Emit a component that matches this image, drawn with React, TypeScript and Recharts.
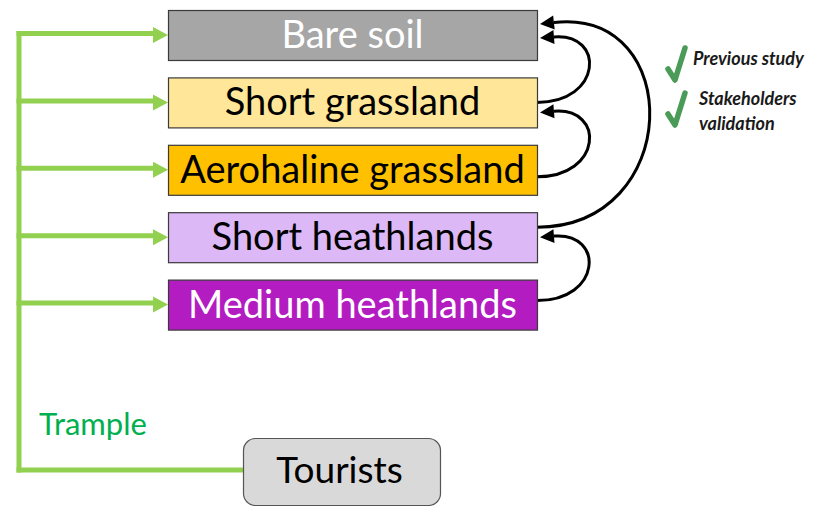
import { ComposedChart, Scatter, XAxis, YAxis } from 'recharts';

// vegetation states, top to bottom
const states = ['Bare soil', 'Short grassland', 'Aerohaline grassland', 'Short heathlands', 'Medium heathlands'];
// degradation transitions (from -> to)
const transitionFrom = ['Short grassland', 'Aerohaline grassland', 'Short heathlands', 'Medium heathlands'];
const transitionTo = ['Bare soil', 'Short grassland', 'Bare soil', 'Short heathlands'];
// driver and pressure
const driver = 'Tourists';
const pressure = 'Trample';
// sources of the model
const sources = ['Previous study', 'Stakeholders validation'];

// styles
const stateFill = ['#A6A6A6', '#FFE699', '#FFC000', '#DDB8F6', '#B21CC0'];
const stateInk = ['#FFFFFF', '#000000', '#000000', '#000000', '#FFFFFF'];
const GREEN = '#92D050';
const FONT = 'Lato, "Open Sans", sans-serif';

// layout (x axis is in pixels, y axis in rows)
const W = 814;
const H = 506;
const ROW0 = 35;
const ROW_STEP = 67.4;
const BOX_LEFT = 168;
const BOX_RIGHT = 537;
const BOX_H = 50;
const TRUNK_X = 19;
const TOURIST_ROW = 6.476;
const TOURIST_LEFT = 243;
const TOURIST_RIGHT = 440;
const LEGEND_X = 676;
const LEGEND_ROWS = [0.43, 1.098];
const arcStartDy = [0, 7, -10, -4];
const arcEndDy = [3, 10, -11, 0];

const yDomain = [-ROW0 / ROW_STEP, (H - ROW0) / ROW_STEP];

const boxData = states.map((s, i) => ({ x: (BOX_LEFT + BOX_RIGHT) / 2, row: i, label: s, fill: stateFill[i], ink: stateInk[i] }));
const touristData = [{ x: (TOURIST_LEFT + TOURIST_RIGHT) / 2, row: TOURIST_ROW, label: driver }];
const legendData = sources.map((s, i) => ({ x: LEGEND_X, row: LEGEND_ROWS[i], label: s }));

const noDot = () => <g />;

const StateBox = (props: any) => {
  const { cx, cy, payload } = props;
  const w = BOX_RIGHT - BOX_LEFT;
  return (
    <g>
      <rect x={cx - w / 2 + 0.5} y={cy - BOX_H / 2 + 0.5} width={w} height={BOX_H} fill={payload.fill} stroke="#3A3A3A" strokeWidth={1.2} />
      <text x={cx} y={cy + 13} textAnchor="middle" fontFamily={FONT} fontSize={38} fill={payload.ink}>
        {payload.label}
      </text>
    </g>
  );
};

const TouristBox = (props: any) => {
  const { cx, cy, payload } = props;
  const w = TOURIST_RIGHT - TOURIST_LEFT;
  return (
    <g>
      <rect x={cx - w / 2 + 0.5} y={cy - 33} width={w} height={67} rx={12} fill="#D9D9D9" stroke="#555555" strokeWidth={1.2} />
      <text x={cx - 2} y={cy + 12} textAnchor="middle" fontFamily={FONT} fontSize={37} fill="#000">
        {payload.label}
      </text>
    </g>
  );
};

const LegendItem = (props: any) => {
  const { cx, cy, payload } = props;
  const label = String(payload.label);
  const lines = label.length > 16 ? label.split(' ') : [label];
  return (
    <g>
      <path d={`M${cx - 8},${cy + 5} L${cx - 1},${cy + 16} L${cx + 9},${cy - 16}`} fill="none" stroke="#4A9B58" strokeWidth={5.5} strokeLinecap="round" strokeLinejoin="round" />
      {lines.length === 1 ? (
        <text x={cx + 17} y={cy + 1} fontFamily={FONT} fontSize={18} fontWeight="bold" fontStyle="italic" fill="#1A1A1A">
          {lines[0]}
        </text>
      ) : (
        lines.map((l, k) => (
          <text key={k} x={cx + 23} y={cy - 4 + k * 25} fontFamily={FONT} fontSize={18} fontWeight="bold" fontStyle="italic" fill="#1A1A1A">
            {l}
          </text>
        ))
      )}
    </g>
  );
};

// green arrow from the trunk to a state box
const greenArrow = (props: any) => {
  const [a, b] = props.points;
  const tip = b.x;
  const base = tip - 15;
  return (
    <g>
      <line x1={a.x - 2.5} y1={a.y - 1.5} x2={base} y2={a.y - 1.5} stroke={GREEN} strokeWidth={5} />
      <polygon points={`${tip},${b.y} ${base},${b.y - 8} ${base},${b.y + 8}`} fill={GREEN} />
    </g>
  );
};

const trunkLine = (props: any) => {
  const [a, b] = props.points;
  return <line x1={a.x} y1={a.y - 4} x2={b.x} y2={b.y + 1} stroke={GREEN} strokeWidth={5} />;
};

const trampleLine = (props: any) => {
  const [a, b] = props.points;
  return (
    <g>
      <line x1={a.x - 2.5} y1={a.y - 1.5} x2={b.x} y2={b.y - 1.5} stroke={GREEN} strokeWidth={5} />
      <text x={a.x + 20} y={a.y - 36} fontFamily={FONT} fontSize={31} fill="#00B050">
        {pressure}
      </text>
    </g>
  );
};

// curved black transition arrow between two boxes
const arcLine = (i: number) => (props: any) => {
  const [a, b] = props.points;
  const sx = a.x;
  const sy = a.y + arcStartDy[i];
  const tx = b.x + 3;
  const ty = b.y + arcEndDy[i];
  const dy = Math.abs(sy - ty);
  const k = 28 + 0.58 * dy;
  const c2x = tx + k;
  const c2y = ty - 0.08 * dy;
  let ux = tx - c2x;
  let uy = ty - c2y;
  const n = Math.hypot(ux, uy);
  ux /= n;
  uy /= n;
  const len = 14;
  const half = 7;
  const bx = tx - ux * len;
  const by = ty - uy * len;
  return (
    <g>
      <path d={`M${sx},${sy} C${sx + k},${sy} ${c2x},${c2y} ${bx},${by}`} fill="none" stroke="#000" strokeWidth={3} />
      <polygon points={`${tx},${ty} ${bx - uy * half},${by + ux * half} ${bx + uy * half},${by - ux * half}`} fill="#000" />
    </g>
  );
};

export default function App() {
  return (
    <div style={{ position: 'absolute', left: 0, top: 0, width: W, height: H, background: '#fff' }}>
      <ComposedChart width={W} height={H} margin={{ top: 0, right: 0, bottom: 0, left: 0 }}>
        <XAxis type="number" dataKey="x" domain={[0, W]} allowDataOverflow hide />
        <YAxis type="number" dataKey="row" domain={yDomain} allowDataOverflow reversed hide />

        <Scatter
          data={[{ x: TRUNK_X, row: 0 }, { x: TRUNK_X, row: TOURIST_ROW }]}
          shape={noDot}
          line={trunkLine}
          isAnimationActive={false}
        />
        {states.map((s, i) => (
          <Scatter
            key={`g-${s}`}
            data={[{ x: TRUNK_X, row: i }, { x: BOX_LEFT, row: i }]}
            shape={noDot}
            line={greenArrow}
            isAnimationActive={false}
          />
        ))}
        <Scatter
          data={[{ x: TRUNK_X, row: TOURIST_ROW }, { x: TOURIST_LEFT, row: TOURIST_ROW }]}
          shape={noDot}
          line={trampleLine}
          isAnimationActive={false}
        />

        {transitionFrom.map((f, i) => (
          <Scatter
            key={`t-${i}`}
            data={[{ x: BOX_RIGHT, row: states.indexOf(f) }, { x: BOX_RIGHT, row: states.indexOf(transitionTo[i]) }]}
            shape={noDot}
            line={arcLine(i)}
            isAnimationActive={false}
          />
        ))}

        <Scatter data={boxData} shape={StateBox} isAnimationActive={false} />
        <Scatter data={touristData} shape={TouristBox} isAnimationActive={false} />
        <Scatter data={legendData} shape={LegendItem} isAnimationActive={false} />
      </ComposedChart>
    </div>
  );
}
